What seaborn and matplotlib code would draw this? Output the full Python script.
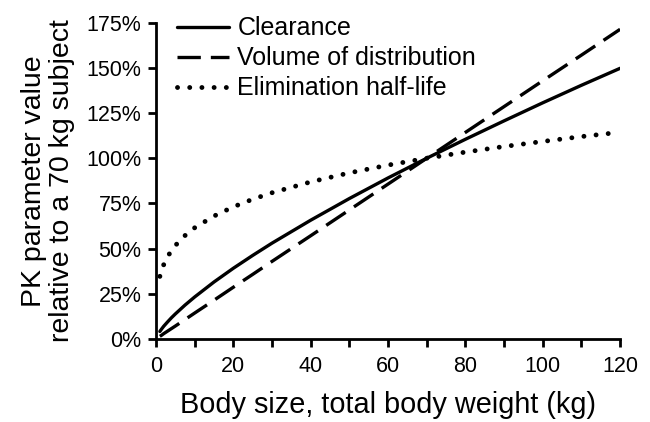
import numpy as np
import pandas as pd
import matplotlib
matplotlib.use("Agg")
import matplotlib.pyplot as plt
import seaborn as sns
from matplotlib.ticker import MultipleLocator, PercentFormatter

# Data (percent of a 70 kg subject)
weight = [1, 1.5, 2, 3, 4, 5, 7.5, 10, 15, 20, 25, 30, 40, 50, 60, 70, 80, 90, 100, 110, 120]
clearance = [4.1, 5.6, 7.0, 9.4, 11.7, 13.8, 18.7, 23.2, 31.5, 39.1, 46.2, 53.0, 65.7, 77.7, 89.1, 100.0, 110.5, 120.7, 130.7, 140.4, 149.8]
volume = [1.4, 2.1, 2.9, 4.3, 5.7, 7.1, 10.7, 14.3, 21.4, 28.6, 35.7, 42.9, 57.1, 71.4, 85.7, 100.0, 114.3, 128.6, 142.9, 157.1, 171.4]
half_life = [34.6, 38.3, 41.1, 45.5, 48.9, 51.7, 57.2, 61.5, 68.0, 73.1, 77.3, 80.9, 86.9, 91.9, 96.2, 100.0, 103.4, 106.5, 109.3, 112.0, 114.4]
series_names = ["Clearance", "Volume of distribution", "Elimination half-life"]

df = pd.DataFrame({
    "weight": weight * 3,
    "value": clearance + volume + half_life,
    "param": [series_names[0]] * len(weight) + [series_names[1]] * len(weight) + [series_names[2]] * len(weight),
})

sns.set_theme(style="ticks")
plt.rcParams["font.family"] = ["Liberation Sans", "DejaVu Sans"]
plt.rcParams["text.color"] = "black"
plt.rcParams["axes.labelcolor"] = "black"

fig = plt.figure(figsize=(6.5, 4.22), dpi=100)
ax = fig.add_axes([0.24, 0.197, 0.714, 0.749])

for name in series_names:
    sub = df[df["param"] == name]
    sns.lineplot(data=sub, x="weight", y="value", ax=ax, color="black",
                 linewidth=2.4, label=name)

lines = {l.get_label(): l for l in ax.get_lines()}
lines[series_names[1]].set_dashes((7, 3))
dl = lines[series_names[2]]
dl.set_linewidth(3.5)
dl.set_dash_capstyle("round")
dl.set_dashes((0.01, 2.5))

ax.set_xlim(0, 120)
ax.set_ylim(0, 175)
ax.xaxis.set_major_locator(MultipleLocator(20))
ax.xaxis.set_minor_locator(MultipleLocator(10))
ax.yaxis.set_major_locator(MultipleLocator(25))
ax.yaxis.set_major_formatter(PercentFormatter(decimals=0))
ax.tick_params(axis="both", which="both", direction="out", length=5.5, width=2,
               color="black", labelsize=15.5, labelcolor="black")
ax.tick_params(axis="x", which="both", pad=7)
ax.tick_params(axis="y", which="both", pad=5)
for s in ["left", "bottom"]:
    ax.spines[s].set_linewidth(2)
    ax.spines[s].set_color("black")
sns.despine(ax=ax)

ax.set_xlabel("Body size, total body weight (kg)", fontsize=20.8, labelpad=10, color="black")
ax.set_ylabel("PK parameter value\nrelative to a 70 kg subject", fontsize=20.5,
              labelpad=8, color="black", linespacing=1.12)

leg = ax.legend(loc="upper left", frameon=False, fontsize=18, handlelength=2.1,
                handletextpad=0.32, labelspacing=0.24, borderpad=0.0, borderaxespad=0.0,
                bbox_to_anchor=(0.045, 1.02))
for h in leg.get_lines():
    h.set_color("black")
for t in leg.get_texts():
    t.set_color("black")

fig.savefig("out.png", dpi=100)
